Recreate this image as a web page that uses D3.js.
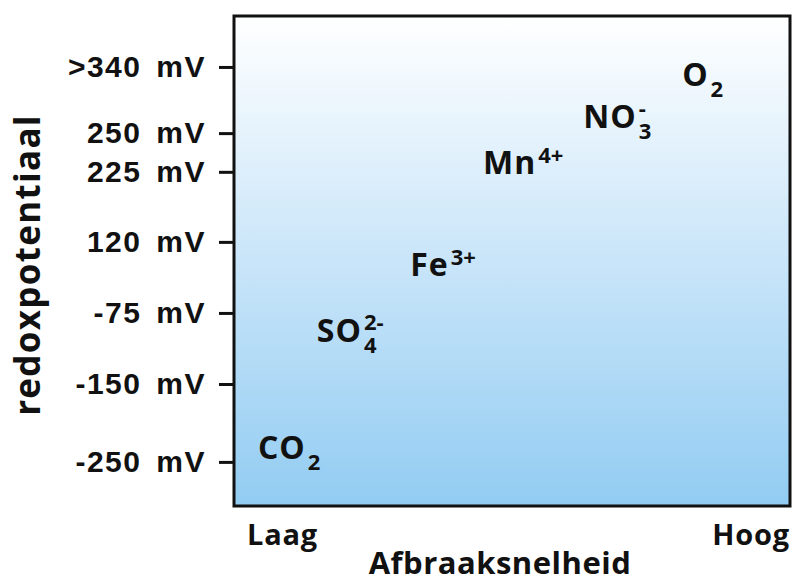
<!DOCTYPE html>
<html>
<head>
<meta charset="utf-8">
<script src="https://cdn.jsdelivr.net/npm/d3@7"></script>
<style>
  body { margin: 0; background: #fff; }
  svg { display: block; font-family: 'Open Sans', 'Noto Sans', sans-serif; font-weight: 700; }
  .axis text { font-size: 30px; font-weight: 700; fill: #111; word-spacing: 5px; letter-spacing: 1.5px; }
  .axis line { stroke: #111; stroke-width: 3; }
  .axis path { display: none; }
</style>
</head>
<body>
<div id="chart"></div>
<script>
// redox levels shown on the y axis (mV), top to bottom
const tickValues = [340, 250, 225, 120, -75, -150, -250];
const tickLabels = ['>340 mV', '250 mV', '225 mV', '120 mV', '-75 mV', '-150 mV', '-250 mV'];
// where each level sits on the (non linear) axis, as fraction of plot height
const tickPlace = [0.104, 0.239, 0.318, 0.461, 0.606, 0.751, 0.910];

// electron acceptors: main text, subscript, superscript
const species = ['CO', 'SO', 'Fe', 'Mn', 'NO', 'O'];
const subs = ['2', '4', '', '', '3', '2'];
const sups = ['', '2-', '3+', '4+', '-', ''];
const rate = [0.043, 0.149, 0.317, 0.448, 0.628, 0.806]; // afbraaksnelheid, 0 = laag, 1 = hoog
const potential = [-232, -94, 57, 231, 272, 329];          // mV

const xLabels = ['Laag', 'Hoog'];

const W = 796, H = 583;
const margin = { left: 234, top: 16, right: 6, bottom: 77 };
const width = W - margin.left - margin.right;
const height = H - margin.top - margin.bottom;

const svg = d3.select('#chart').append('svg')
  .attr('width', W)
  .attr('height', H);

const grad = svg.append('defs').append('linearGradient')
  .attr('id', 'bg')
  .attr('x1', 0).attr('y1', 0).attr('x2', 0).attr('y2', 1);
grad.append('stop').attr('offset', '0%').attr('stop-color', '#ffffff');
grad.append('stop').attr('offset', '50%').attr('stop-color', '#c9e5f9');
grad.append('stop').attr('offset', '100%').attr('stop-color', '#92ccf2');

const g = svg.append('g')
  .attr('transform', `translate(${margin.left}, ${margin.top})`);

const x = d3.scaleLinear()
  .domain([0, 1])
  .range([0, width]);

// piecewise scale: the levels are not evenly spaced in the figure
const y = d3.scaleLinear()
  .domain(tickValues)
  .range(tickPlace.map((f) => f * height));

g.append('rect')
  .attr('width', width)
  .attr('height', height)
  .attr('fill', 'url(#bg)')
  .attr('stroke', '#111')
  .attr('stroke-width', 3);

const yAxis = d3.axisLeft(y)
  .tickValues(tickValues)
  .tickSize(14)
  .tickPadding(13)
  .tickFormat((d, i) => tickLabels[i]);

g.append('g')
  .attr('class', 'y-axis axis')
  .attr('transform', 'translate(-1, 0)')
  .call(yAxis);

// species labels
const labelSize = 32;
const smallSize = 22;
species.forEach((name, i) => {
  const px = x(rate[i]);
  const base = y(potential[i]) + 11;
  const t = g.append('text')
    .attr('x', px)
    .attr('y', base)
    .attr('font-size', labelSize)
    .attr('fill', '#111')
    .attr('letter-spacing', 1)
    .text(name);
  const w = t.node().getComputedTextLength() + 2;
  if (subs[i]) {
    g.append('text')
      .attr('x', px + w)
      .attr('y', base + 11)
      .attr('font-size', smallSize)
      .attr('fill', '#111')
      .text(subs[i]);
  }
  if (sups[i]) {
    g.append('text')
      .attr('x', px + w)
      .attr('y', base - (subs[i] ? 12 : 11))
      .attr('font-size', smallSize)
      .attr('fill', '#111')
      .text(sups[i]);
  }
});

// x axis end labels
g.selectAll('.x-end')
  .data(xLabels)
  .enter()
  .append('text')
  .attr('class', 'x-end')
  .attr('x', (d, i) => x(i))
  .attr('dx', (d, i) => (i === 0 ? 13 : 0))
  .attr('y', height + 39)
  .attr('text-anchor', (d, i) => (i === 0 ? 'start' : 'end'))
  .attr('font-size', 29)
  .attr('fill', '#111')
  .attr('letter-spacing', 0.8)
  .text((d) => d);

g.append('text')
  .attr('x', x(0.5) - 12)
  .attr('y', height + 68)
  .attr('text-anchor', 'middle')
  .attr('font-size', 31)
  .attr('fill', '#111')
  .attr('letter-spacing', 0.5)
  .text('Afbraaksnelheid');

svg.append('text')
  .attr('transform', `translate(40, 265) rotate(-90)`)
  .attr('text-anchor', 'middle')
  .attr('font-size', 35)
  .attr('fill', '#111')
  .attr('letter-spacing', 1.3)
  .text('redoxpotentiaal');
</script>
</body>
</html>
